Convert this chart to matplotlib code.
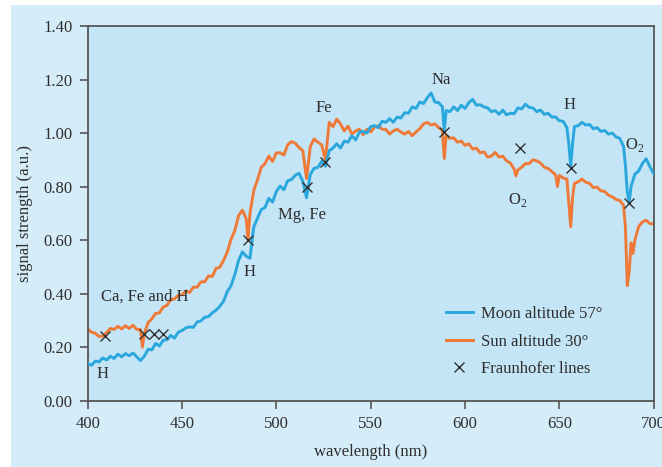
import matplotlib
matplotlib.use("Agg")
import matplotlib.pyplot as plt
from matplotlib.patches import Rectangle

# Moon spectrum (moon altitude 57 degrees)
wl_moon = [400, 402, 404, 406, 408, 410, 412, 414, 416, 418, 420, 422, 424, 426, 428, 430,
           432, 434, 436, 438, 440, 442, 444, 446, 448, 450, 452, 454, 456, 458, 460, 462,
           464, 466, 468, 470, 472, 474, 476, 478, 480, 482, 484, 486, 488, 490, 492, 494,
           496, 498, 500, 502, 504, 506, 508, 510, 512, 514, 516, 518, 520, 522, 524, 526,
           528, 530, 532, 534, 536, 538, 540, 542, 544, 546, 548, 550, 552, 554, 556, 558,
           560, 562, 564, 566, 568, 570, 572, 574, 576, 578, 580, 582, 584, 586, 588, 589,
           590, 592, 594, 596, 598, 600, 602, 604, 606, 608, 610, 612, 614, 616, 618, 620,
           622, 624, 626, 628, 630, 632, 634, 636, 638, 640, 642, 644, 646, 648, 650, 652,
           654, 655, 656, 657, 658, 660, 662, 664, 666, 668, 670, 672, 674, 676, 678, 680,
           682, 684, 685, 686, 687, 688, 690, 692, 694, 696, 698, 700]
moon = [0.140, 0.132, 0.148, 0.145, 0.160, 0.152, 0.166, 0.158, 0.174, 0.164, 0.176, 0.168, 0.178, 0.164, 0.150, 0.166,
        0.192, 0.190, 0.214, 0.204, 0.226, 0.228, 0.244, 0.234, 0.256, 0.262, 0.272, 0.276, 0.274, 0.294, 0.298, 0.312,
        0.314, 0.328, 0.338, 0.352, 0.372, 0.408, 0.430, 0.472, 0.525, 0.556, 0.540, 0.532, 0.648, 0.682, 0.714, 0.722,
        0.756, 0.742, 0.782, 0.802, 0.788, 0.822, 0.826, 0.842, 0.850, 0.820, 0.758, 0.846, 0.868, 0.872, 0.894, 0.876,
        0.934, 0.944, 0.960, 0.944, 0.970, 0.966, 0.990, 0.974, 1.004, 1.006, 1.000, 1.024, 1.028, 1.020, 1.044, 1.040,
        1.054, 1.040, 1.060, 1.056, 1.076, 1.074, 1.098, 1.092, 1.116, 1.110, 1.132, 1.150, 1.116, 1.114, 1.098, 1.010,
        1.084, 1.080, 1.098, 1.084, 1.104, 1.092, 1.114, 1.126, 1.104, 1.106, 1.098, 1.094, 1.080, 1.084, 1.070, 1.086,
        1.068, 1.074, 1.072, 1.094, 1.090, 1.108, 1.096, 1.094, 1.080, 1.086, 1.070, 1.074, 1.060, 1.060, 1.046, 1.044,
        1.020, 0.960, 0.875, 0.960, 1.024, 1.028, 1.040, 1.030, 1.032, 1.016, 1.020, 1.006, 1.010, 0.996, 1.000, 0.986,
        0.980, 0.950, 0.880, 0.780, 0.740, 0.800, 0.846, 0.858, 0.886, 0.904, 0.874, 0.848]

# Sun spectrum (sun altitude 30 degrees)
wl_sun = [400, 402, 404, 406, 408, 410, 412, 414, 416, 418, 420, 422, 424, 426, 428, 429,
          430, 432, 434, 436, 438, 440, 442, 444, 446, 448, 450, 452, 454, 456, 458, 460,
          462, 464, 466, 468, 470, 472, 474, 476, 478, 480, 482, 484, 485, 486, 488, 490,
          492, 494, 496, 498, 500, 502, 504, 506, 508, 510, 512, 514, 516, 518, 520, 522,
          524, 526, 528, 530, 532, 534, 536, 538, 540, 542, 544, 546, 548, 550, 552, 554,
          556, 558, 560, 562, 564, 566, 568, 570, 572, 574, 576, 578, 580, 582, 584, 586,
          588, 589, 590, 592, 594, 596, 598, 600, 602, 604, 606, 608, 610, 612, 614, 616,
          618, 620, 622, 624, 626, 627, 628, 630, 632, 634, 636, 638, 640, 642, 644, 646,
          648, 649, 650, 652, 654, 655, 656, 657, 658, 660, 662, 664, 666, 668, 670, 672,
          674, 676, 678, 680, 682, 684, 685, 686, 687, 688, 689, 690, 692, 694, 696, 698, 700]
sun = [0.268, 0.256, 0.252, 0.240, 0.242, 0.254, 0.270, 0.266, 0.278, 0.268, 0.280, 0.270, 0.282, 0.266, 0.266, 0.200,
       0.250, 0.292, 0.306, 0.326, 0.328, 0.350, 0.356, 0.378, 0.380, 0.394, 0.396, 0.410, 0.404, 0.424, 0.424, 0.444,
       0.444, 0.466, 0.464, 0.494, 0.498, 0.524, 0.556, 0.604, 0.636, 0.692, 0.712, 0.680, 0.600, 0.700, 0.784, 0.826,
       0.872, 0.886, 0.914, 0.894, 0.926, 0.926, 0.918, 0.956, 0.968, 0.962, 0.946, 0.934, 0.830, 0.950, 0.978, 0.966,
       0.956, 0.900, 1.040, 1.024, 1.052, 1.034, 1.008, 1.026, 0.996, 1.008, 1.014, 0.994, 1.014, 1.004, 1.022, 1.028,
       1.014, 1.014, 0.996, 1.008, 1.014, 1.004, 0.996, 1.006, 0.990, 1.004, 1.016, 1.034, 1.040, 1.030, 1.034, 1.020,
       1.012, 0.905, 0.992, 0.980, 0.982, 0.966, 0.970, 0.954, 0.960, 0.940, 0.944, 0.926, 0.930, 0.910, 0.914, 0.928,
       0.910, 0.914, 0.896, 0.888, 0.866, 0.840, 0.862, 0.872, 0.886, 0.886, 0.900, 0.896, 0.888, 0.872, 0.868, 0.856,
       0.844, 0.800, 0.842, 0.832, 0.828, 0.740, 0.650, 0.760, 0.812, 0.818, 0.828, 0.816, 0.812, 0.796, 0.798, 0.784,
       0.782, 0.768, 0.762, 0.752, 0.748, 0.730, 0.650, 0.430, 0.480, 0.590, 0.550, 0.600, 0.650, 0.668, 0.674, 0.662, 0.660]

# Fraunhofer line positions
fh_wl = [409, 430, 435, 440, 485, 516.5, 526, 589, 629, 656, 687]
fh_val = [0.24, 0.25, 0.25, 0.25, 0.60, 0.80, 0.89, 1.005, 0.945, 0.87, 0.74]

# Line identifications
line_labels = ["Ca, Fe and H", "H", "H", "Mg, Fe", "Fe", "Na", "H", "O$_2$", "O$_2$"]
label_wl = [430, 408, 486, 513.5, 525, 587.5, 655.5, 690, 628]
label_val = [0.39, 0.10, 0.48, 0.695, 1.095, 1.20, 1.105, 0.955, 0.75]

x_ticks = [400, 450, 500, 550, 600, 650, 700]
y_ticks = [0.0, 0.2, 0.4, 0.6, 0.8, 1.0, 1.2, 1.4]

TEXT = "#2e2e2e"
BLUE = "#2aa7dd"
ORANGE = "#ef7a38"
SPINE = "#555555"

plt.rcParams["font.family"] = ["Liberation Serif", "DejaVu Serif"]
plt.rcParams["mathtext.fontset"] = "custom"
plt.rcParams["mathtext.rm"] = "Liberation Serif"

fig = plt.figure(figsize=(6.62, 4.67), dpi=100, facecolor="white")
fig.patches.append(Rectangle((11 / 662, 0), 1, 1 - 5 / 467, transform=fig.transFigure,
                             facecolor="#d5edf9", edgecolor="none", zorder=-10))

ax = fig.add_axes([87.7 / 662, 1 - 400.7 / 467, 566 / 662, 374.7 / 467])
ax.set_facecolor("#c4e5f6")

ax.plot(wl_moon, moon, color=BLUE, lw=2.1, label="Moon altitude 57°", zorder=3)
ax.plot(wl_sun, sun, color=ORANGE, lw=2.1, label="Sun altitude 30°", zorder=2)
ax.plot(fh_wl, fh_val, linestyle="none", marker="x", color="#333333", ms=6.5, mew=1.0,
        label="Fraunhofer lines", zorder=4)

for txt, x, y in zip(line_labels, label_wl, label_val):
    ax.text(x, y, txt, ha="center", va="center", fontsize=12, color=TEXT, zorder=5)

ax.set_xlim(400, 700)
ax.set_ylim(0, 1.4)
ax.set_xticks(x_ticks)
ax.set_yticks(y_ticks)
ax.set_yticklabels([f"{v:.2f}" for v in y_ticks])
ax.tick_params(axis="both", direction="out", length=6, width=1.2, color=SPINE,
               labelsize=12, labelcolor=TEXT, pad=5)
for s in ax.spines.values():
    s.set_color(SPINE)
    s.set_linewidth(1.3)

ax.set_xlabel("wavelength (nm)", fontsize=12, color=TEXT, labelpad=9)
ax.set_ylabel("signal strength (a.u.)", fontsize=12, color=TEXT, labelpad=7)

leg = ax.legend(loc="upper left", bbox_to_anchor=(0.633, 0.252), frameon=False,
                fontsize=12, handlelength=1.6, handletextpad=0.5, labelspacing=0.68,
                borderpad=0, borderaxespad=0)
for t in leg.get_texts():
    t.set_color(TEXT)

fig.savefig("out.png", dpi=100, facecolor=fig.get_facecolor())
